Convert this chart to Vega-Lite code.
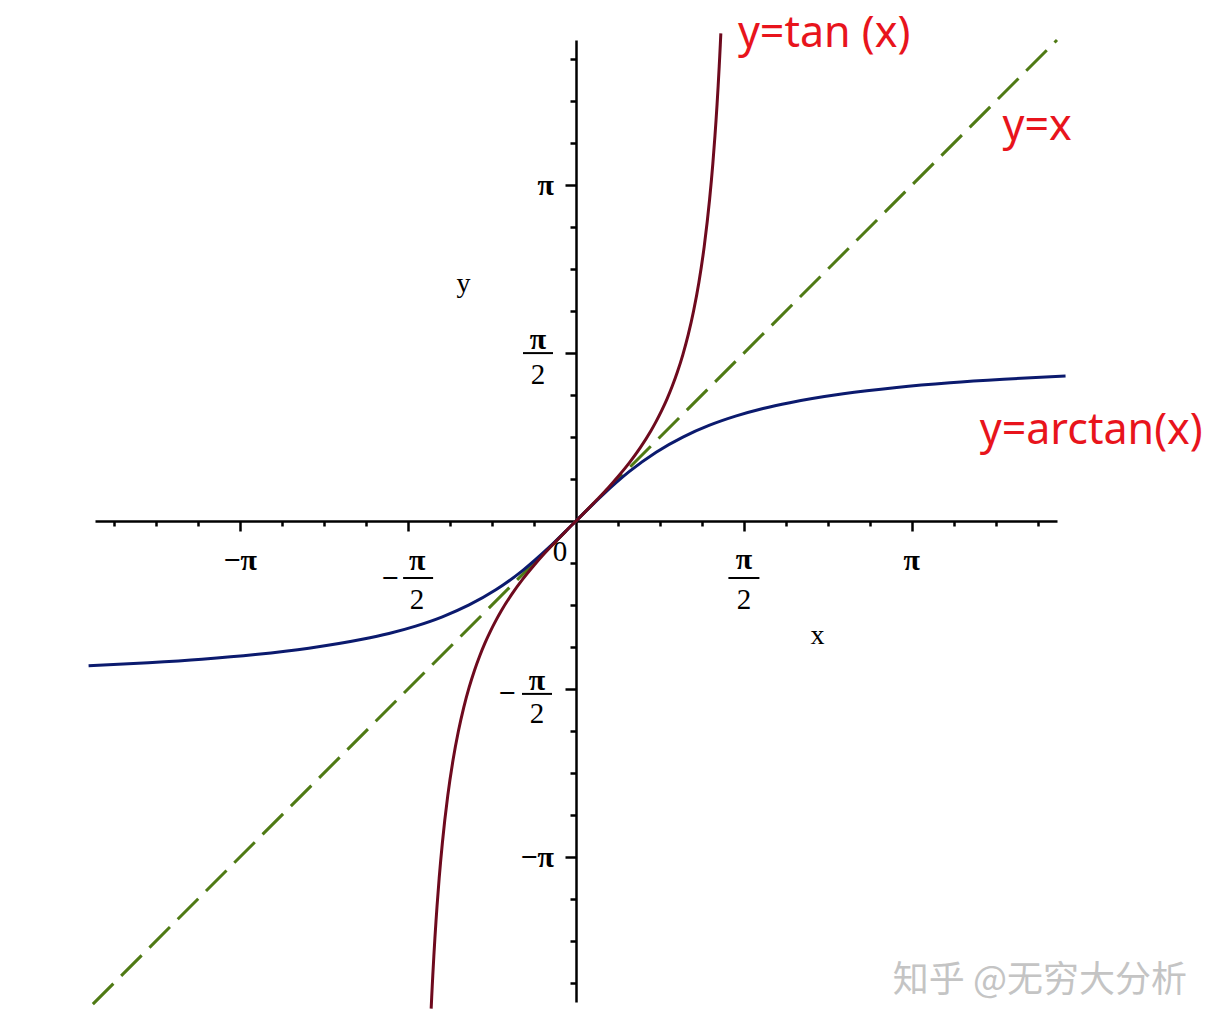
{
  "$schema": "https://vega.github.io/schema/vega-lite/v6.json",
  "width": 962,
  "height": 962,
  "autosize": "none",
  "padding": {"left": 95, "top": 40, "right": 162, "bottom": 27},
  "background": "white",
  "config": {"view": {"stroke": null}},
  "datasets": {
    "tan": [
      {"x": -1.355, "y": -4.562}, {"x": -1.35, "y": -4.455}, {"x": -1.345, "y": -4.353}, {"x": -1.34, "y": -4.256},
      {"x": -1.33, "y": -4.072}, {"x": -1.32, "y": -3.903}, {"x": -1.31, "y": -3.747}, {"x": -1.3, "y": -3.602},
      {"x": -1.28, "y": -3.341}, {"x": -1.25, "y": -3.01}, {"x": -1.2, "y": -2.572}, {"x": -1.15, "y": -2.234},
      {"x": -1.1, "y": -1.965}, {"x": -1.05, "y": -1.743}, {"x": -1.0, "y": -1.557}, {"x": -0.95, "y": -1.398},
      {"x": -0.9, "y": -1.26}, {"x": -0.85, "y": -1.138}, {"x": -0.8, "y": -1.03}, {"x": -0.75, "y": -0.932},
      {"x": -0.7, "y": -0.842}, {"x": -0.6, "y": -0.684}, {"x": -0.5, "y": -0.546}, {"x": -0.4, "y": -0.423},
      {"x": -0.3, "y": -0.309}, {"x": -0.2, "y": -0.203}, {"x": -0.1, "y": -0.1}, {"x": 0, "y": 0},
      {"x": 0.1, "y": 0.1}, {"x": 0.2, "y": 0.203}, {"x": 0.3, "y": 0.309}, {"x": 0.4, "y": 0.423},
      {"x": 0.5, "y": 0.546}, {"x": 0.6, "y": 0.684}, {"x": 0.7, "y": 0.842}, {"x": 0.75, "y": 0.932},
      {"x": 0.8, "y": 1.03}, {"x": 0.85, "y": 1.138}, {"x": 0.9, "y": 1.26}, {"x": 0.95, "y": 1.398},
      {"x": 1.0, "y": 1.557}, {"x": 1.05, "y": 1.743}, {"x": 1.1, "y": 1.965}, {"x": 1.15, "y": 2.234},
      {"x": 1.2, "y": 2.572}, {"x": 1.25, "y": 3.01}, {"x": 1.28, "y": 3.341}, {"x": 1.3, "y": 3.602},
      {"x": 1.31, "y": 3.747}, {"x": 1.32, "y": 3.903}, {"x": 1.33, "y": 4.072}, {"x": 1.34, "y": 4.256},
      {"x": 1.345, "y": 4.353}, {"x": 1.35, "y": 4.455}, {"x": 1.355, "y": 4.562}
    ],
    "atan": [
      {"x": -4.56, "y": -1.355}, {"x": -4.0, "y": -1.326}, {"x": -3.5, "y": -1.293}, {"x": -3.0, "y": -1.249},
      {"x": -2.5, "y": -1.19}, {"x": -2.0, "y": -1.107}, {"x": -1.75, "y": -1.052}, {"x": -1.5, "y": -0.983},
      {"x": -1.25, "y": -0.896}, {"x": -1.0, "y": -0.785}, {"x": -0.75, "y": -0.644}, {"x": -0.5, "y": -0.464},
      {"x": -0.25, "y": -0.245}, {"x": 0, "y": 0}, {"x": 0.25, "y": 0.245}, {"x": 0.5, "y": 0.464},
      {"x": 0.75, "y": 0.644}, {"x": 1.0, "y": 0.785}, {"x": 1.25, "y": 0.896}, {"x": 1.5, "y": 0.983},
      {"x": 1.75, "y": 1.052}, {"x": 2.0, "y": 1.107}, {"x": 2.5, "y": 1.19}, {"x": 3.0, "y": 1.249},
      {"x": 3.5, "y": 1.293}, {"x": 4.0, "y": 1.326}, {"x": 4.58, "y": 1.356}
    ],
    "diag": [{"x": -4.52, "y": -4.52}, {"x": 4.5, "y": 4.5}],
    "xsimple": [{"x": -3.141593, "t": "−π"}, {"x": 3.141593, "t": "π"}],
    "ysimple": [{"y": 3.141593, "t": "π"}, {"y": -3.141593, "t": "−π"}],
    "notes": [
      {"x": 1.515, "y": 4.56, "t": "y=tan (x)"},
      {"x": 3.99, "y": 3.69, "t": "y=x"},
      {"x": 3.777, "y": 0.84, "t": "y=arctan(x)"}
    ],
    "mark": [{"x": 2.964, "y": -4.3, "t": "知乎 @无穷大分析"}]
  },
  "layer": [
    {
      "data": {"name": "diag"},
      "mark": {"type": "line", "color": "#4f7a14", "strokeWidth": 3, "strokeDash": [29, 11]},
      "encoding": {
        "x": {
          "field": "x", "type": "quantitative",
          "scale": {"domain": [-4.5, 4.5], "nice": false, "zero": false},
          "axis": {
            "orient": "bottom", "offset": -481,
            "values": [-4.31969, -3.926991, -3.534292, -3.141593, -2.748894, -2.356194, -1.963495, -1.570796, -1.178097, -0.785398, -0.392699, 0.392699, 0.785398, 1.178097, 1.570796, 1.963495, 2.356194, 2.748894, 3.141593, 3.534292, 3.926991, 4.31969],
            "labels": false, "grid": false,
            "domainColor": "black", "domainWidth": 2.5,
            "tickColor": "black", "tickWidth": 2.5,
            "tickSize": {"condition": {"test": "round(abs(datum.value)*8/PI) % 4 == 0", "value": 10}, "value": 5},
            "title": "x", "titleFont": "Liberation Serif", "titleFontSize": 28, "titleFontWeight": "normal",
            "titleColor": "black", "titleAngle": 0, "titleX": 722, "titleY": 114,
            "titleBaseline": "middle", "titleAlign": "center"
          }
        },
        "y": {
          "field": "y", "type": "quantitative",
          "scale": {"domain": [-4.5, 4.5], "nice": false, "zero": false},
          "axis": {
            "orient": "left", "offset": -481,
            "values": [-4.31969, -3.926991, -3.534292, -3.141593, -2.748894, -2.356194, -1.963495, -1.570796, -1.178097, -0.785398, -0.392699, 0.392699, 0.785398, 1.178097, 1.570796, 1.963495, 2.356194, 2.748894, 3.141593, 3.534292, 3.926991, 4.31969],
            "labels": false, "grid": false,
            "domainColor": "black", "domainWidth": 2.5,
            "tickColor": "black", "tickWidth": 2.5,
            "tickSize": {"condition": {"test": "round(abs(datum.value)*8/PI) % 4 == 0", "value": 11}, "value": 6},
            "title": "y", "titleFont": "Liberation Serif", "titleFontSize": 28, "titleFontWeight": "normal",
            "titleColor": "black", "titleAngle": 0, "titleX": -113, "titleY": 243,
            "titleBaseline": "middle", "titleAlign": "center"
          }
        }
      }
    },
    {
      "data": {"name": "atan"},
      "mark": {"type": "line", "color": "#0b1a6e", "strokeWidth": 3, "interpolate": "monotone"},
      "encoding": {"x": {"field": "x", "type": "quantitative"}, "y": {"field": "y", "type": "quantitative"}}
    },
    {
      "data": {"name": "tan"},
      "mark": {"type": "line", "color": "#6e0a1e", "strokeWidth": 3, "interpolate": "monotone"},
      "encoding": {"x": {"field": "x", "type": "quantitative"}, "y": {"field": "y", "type": "quantitative"}}
    },
    {
      "data": {"name": "xsimple"},
      "mark": {"type": "text", "font": "Liberation Serif", "fontSize": 30, "fontWeight": "bold", "color": "black", "align": "center", "baseline": "middle", "dy": 40},
      "encoding": {"x": {"field": "x", "type": "quantitative"}, "y": {"datum": 0, "type": "quantitative"}, "text": {"field": "t"}}
    },
    {
      "data": {"name": "ysimple"},
      "mark": {"type": "text", "font": "Liberation Serif", "fontSize": 30, "fontWeight": "bold", "color": "black", "align": "right", "baseline": "middle", "dx": -22, "dy": 1},
      "encoding": {"x": {"datum": 0, "type": "quantitative"}, "y": {"field": "y", "type": "quantitative"}, "text": {"field": "t"}}
    },
    {
      "data": {"values": [{"v": 1.570796}]},
      "layer": [
        {"mark": {"type": "text", "text": "π", "font": "Liberation Serif", "fontSize": 30, "fontWeight": "bold", "color": "black", "align": "center", "baseline": "middle", "dy": 39}},
        {"mark": {"type": "tick", "orient": "horizontal", "size": 31, "thickness": 2, "color": "black", "yOffset": 57, "opacity": 1}},
        {"mark": {"type": "text", "text": "2", "font": "Liberation Serif", "fontSize": 29, "color": "black", "align": "center", "baseline": "middle", "dy": 79}}
      ],
      "encoding": {"x": {"field": "v", "type": "quantitative"}, "y": {"datum": 0, "type": "quantitative"}}
    },
    {
      "data": {"values": [{"v": -1.570796}]},
      "layer": [
        {"mark": {"type": "text", "text": "π", "font": "Liberation Serif", "fontSize": 30, "fontWeight": "bold", "color": "black", "align": "center", "baseline": "middle", "dx": 9, "dy": 40}},
        {"mark": {"type": "tick", "orient": "horizontal", "size": 30, "thickness": 2, "color": "black", "xOffset": 10, "yOffset": 57, "opacity": 1}},
        {"mark": {"type": "text", "text": "2", "font": "Liberation Serif", "fontSize": 29, "color": "black", "align": "center", "baseline": "middle", "dx": 9, "dy": 79}},
        {"mark": {"type": "text", "text": "−", "font": "Liberation Serif", "fontSize": 30, "fontWeight": "bold", "color": "black", "align": "center", "baseline": "middle", "dx": -18, "dy": 58}}
      ],
      "encoding": {"x": {"field": "v", "type": "quantitative"}, "y": {"datum": 0, "type": "quantitative"}}
    },
    {
      "data": {"values": [{"v": 1.570796}]},
      "layer": [
        {"mark": {"type": "text", "text": "π", "font": "Liberation Serif", "fontSize": 30, "fontWeight": "bold", "color": "black", "align": "center", "baseline": "middle", "dx": -38, "dy": -13}},
        {"mark": {"type": "tick", "orient": "horizontal", "size": 30, "thickness": 2, "color": "black", "xOffset": -38, "opacity": 1}},
        {"mark": {"type": "text", "text": "2", "font": "Liberation Serif", "fontSize": 29, "color": "black", "align": "center", "baseline": "middle", "dx": -38, "dy": 22}}
      ],
      "encoding": {"x": {"datum": 0, "type": "quantitative"}, "y": {"field": "v", "type": "quantitative"}}
    },
    {
      "data": {"values": [{"v": -1.570796}]},
      "layer": [
        {"mark": {"type": "text", "text": "π", "font": "Liberation Serif", "fontSize": 30, "fontWeight": "bold", "color": "black", "align": "center", "baseline": "middle", "dx": -39, "dy": -8}},
        {"mark": {"type": "tick", "orient": "horizontal", "size": 30, "thickness": 2, "color": "black", "xOffset": -39, "yOffset": 5, "opacity": 1}},
        {"mark": {"type": "text", "text": "2", "font": "Liberation Serif", "fontSize": 29, "color": "black", "align": "center", "baseline": "middle", "dx": -39, "dy": 25}},
        {"mark": {"type": "text", "text": "−", "font": "Liberation Serif", "fontSize": 30, "fontWeight": "bold", "color": "black", "align": "center", "baseline": "middle", "dx": -69, "dy": 5}}
      ],
      "encoding": {"x": {"datum": 0, "type": "quantitative"}, "y": {"field": "v", "type": "quantitative"}}
    },
    {
      "data": {"values": [{"v": 0}]},
      "mark": {"type": "text", "text": "0", "font": "Liberation Serif", "fontSize": 29, "color": "black", "align": "center", "baseline": "middle", "dx": -16, "dy": 31},
      "encoding": {"x": {"field": "v", "type": "quantitative"}, "y": {"field": "v", "type": "quantitative"}}
    },
    {
      "data": {"name": "notes"},
      "mark": {"type": "text", "font": "Noto Sans", "fontSize": 43, "color": "#e8141c", "align": "left", "baseline": "middle"},
      "encoding": {"x": {"field": "x", "type": "quantitative"}, "y": {"field": "y", "type": "quantitative"}, "text": {"field": "t"}}
    },
    {
      "data": {"name": "mark"},
      "mark": {"type": "text", "font": "Noto Sans CJK SC", "fontSize": 36, "color": "#c4c4c4", "align": "left", "baseline": "middle"},
      "encoding": {"x": {"field": "x", "type": "quantitative"}, "y": {"field": "y", "type": "quantitative"}, "text": {"field": "t"}}
    }
  ]
}
